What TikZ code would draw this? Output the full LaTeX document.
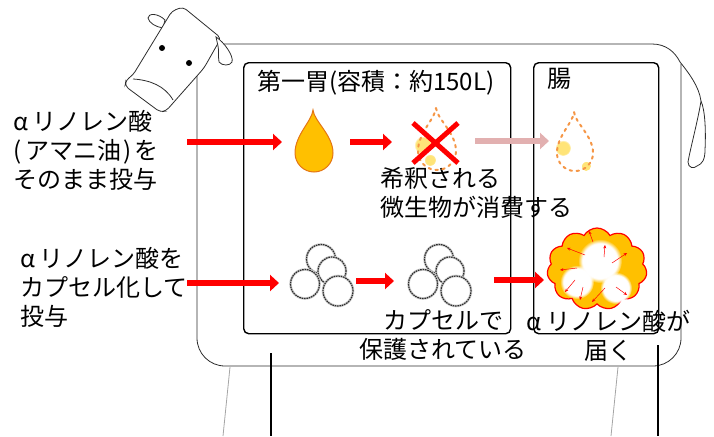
\documentclass[tikz,border=0pt]{standalone}
\usepackage{fontspec}
\newfontfamily\jp{Noto Sans CJK JP}
\usetikzlibrary{arrows.meta,shapes.symbols,fadings}
\definecolor{dropfill}{RGB}{255,192,0}
\definecolor{dropline}{RGB}{228,118,20}
\definecolor{dotline}{RGB}{245,150,70}
\definecolor{pinkarrow}{RGB}{226,176,176}
\definecolor{bodyline}{RGB}{45,45,45}
\definecolor{legline}{RGB}{165,165,165}
\definecolor{glow}{RGB}{255,210,30}
\newcommand\agap{\hspace{5pt}}

\begin{document}
\begin{tikzpicture}[x=1pt,y=-1pt,
  txt/.style={font=\jp\fontsize{24}{29}\selectfont, inner sep=0pt, outer sep=0pt},
  flow/.style={draw=red, line width=6pt, -{Triangle[length=9pt,width=16pt]}},
  fadedflow/.style={flow, draw=pinkarrow},
  panel/.style={draw=black, line width=1.4pt, rounded corners=5pt, anchor=north west, inner sep=0pt},
  outline/.style={draw=bodyline, line width=0.8pt},
  leg/.style={draw=legline, line width=0.8pt},
  innerleg/.style={draw=black, line width=1.1pt},
  spark/.style={draw=red, line width=0.5pt, -{Stealth[length=3.5pt,width=3pt]}},
  cross/.style={draw=red, line width=5pt},
  dropdash/.style={draw=dotline, line width=2pt, dash pattern=on 2.5pt off 4.5pt, line cap=round},
  droplet/.pic={\path[pic actions] (-1,-43) .. controls (0,-32) and (19,-18) .. (19,0)
      .. controls (19,10.5) and (10.5,19) .. (0,19)
      .. controls (-10.5,19) and (-19,10.5) .. (-19,0)
      .. controls (-19,-18) and (-2,-32) .. (-1,-43) -- cycle;},
  capsules/.pic={
    \foreach \cx/\cy/\rr in {0/-13/14.5, 11/-1/14, -16/12/14.5, 17/19/15}{
      \fill[white] (\cx,\cy) circle[radius=\rr pt];
      \draw[gray!35, line width=2.6pt] (\cx,\cy) circle[radius=\rr pt];
      \draw[gray!35!black, line width=1.2pt, dash pattern=on 1.6pt off 0.8pt] (\cx,\cy) circle[radius=\rr pt];
    }},
  glowspot/.style={fill=glow, fill opacity=0.6, path fading=circle with fuzzy edge 20 percent},
  whiteblob/.style={fill=white, path fading=circle with fuzzy edge 20 percent}
]
\useasboundingbox (0,0) rectangle (714,436);

% ---- cow body, tail and legs ----
\draw[outline, rounded corners=28pt] (197,74) -- (197,366) -- (681,366) -- (681,64);
\draw[outline] (224,44) -- (652,44) .. controls (666,44) and (675,52) .. (680,62)
  .. controls (688,72) and (699,86) .. (701,101)
  .. controls (698,120) and (690,150) .. (688,162)
  .. controls (688,168) and (694,169) .. (697,166)
  .. controls (702,164) and (705,160) .. (705,150)
  .. controls (706,130) and (705,110) .. (701,101);
\draw[leg] (230,367) -- (223,436);
\draw[innerleg] (271,353) -- (271,436);
\draw[leg] (618,367) -- (611,436);
\draw[innerleg] (658,345) -- (658,436);

% ---- head, ears, eyes ----
\draw[outline, fill=white] (165,20) .. controls (158,13) and (148,13) .. (148,18)
  .. controls (149,23) and (156,27) .. (163,28) -- cycle;
\draw[outline, fill=white, rounded corners=4pt] (183,7) -- (221,38) -- (204,68) -- (166,111)
  -- (160,112) -- (125,86) -- (126,80) -- (133,75) -- (172,11) -- cycle;
\draw[outline] (133,79) .. controls (150,80) and (165,86) .. (173,100);
\draw[outline, fill=white] (216,37) .. controls (224,42) and (234,56) .. (232,62)
  .. controls (230,66) and (222,66) .. (219,62) .. controls (218,56) and (219,50) .. (218,46) -- cycle;
\fill[black] (162,48) circle[radius=3pt];
\fill[black] (189,63) circle[radius=3pt];

% ---- compartments ----
\node[panel, minimum width=267pt, minimum height=271pt] (rumen) at (243,62) {};
\node[panel, minimum width=125pt, minimum height=271pt] (gut) at (533,62) {};

% ---- labels ----
\node[txt, anchor=north west] (rumenTitle) at (257,70) {第一胃(容積：約150L)};
\node[txt, anchor=north west] (gutTitle) at (547,68) {腸};
\node[txt, anchor=north west, align=left] (oilTxt) at (13,110) {α\agap リノレン酸\\(\hspace{4pt}アマニ油\hspace{2pt})\hspace{3pt}を\\そのまま投与};
\node[txt, anchor=north west, align=left] (capTxt) at (20,247) {α\agap リノレン酸を\\カプセル化して\\投与};
\node[txt, anchor=north west, align=left] (dilTxt) at (380,167) {希釈される\\微生物が消費する};
\node[txt, anchor=north, align=center] (protTxt) at (443,310) {カプセルで\\保護されている};
\node[txt, anchor=north, align=center] (arrTxt) at (608,310) {α\agap リノレン酸が\\届く};

% ---- upper row: free oil ----
\pic[fill=dropfill, draw=dropline, line width=1pt] (oilDrop) at (314,153) {droplet};
\fill[glowspot] (423,145) circle[radius=9pt];
\fill[glowspot] (430,160) circle[radius=6pt];
\pic[dropdash] (lostDrop) at (437,151) {droplet};
\fill[glowspot] (563,148) circle[radius=8pt];
\fill[glowspot] (586,166) circle[radius=5pt];
\pic[dropdash, scale=0.95] (faintDrop) at (575,153) {droplet};
\coordinate (xa) at (413,123); \coordinate (xb) at (458,163);
\coordinate (xc) at (458,123); \coordinate (xd) at (413,163);
\draw[cross] (xa) -- (xb);
\draw[cross] (xc) -- (xd);

\coordinate (a1s) at (187,142); \coordinate (a1e) at (282,142);
\coordinate (a2s) at (350,142); \coordinate (a2e) at (392,142);
\coordinate (a3s) at (475,141); \coordinate (a3e) at (549,141);
\draw[flow] (a1s) -- (a1e);
\draw[flow] (a2s) -- (a2e);
\draw[fadedflow] (a3s) -- (a3e);

% ---- lower row: encapsulated oil ----
\pic (capA) at (321,272) {capsules};
\pic (capB) at (439,272) {capsules};
\coordinate (b1s) at (187,283); \coordinate (b1e) at (279,283);
\coordinate (b2s) at (356,281); \coordinate (b2e) at (394,281);
\coordinate (b3s) at (494,280); \coordinate (b3e) at (544,280);
\draw[flow] (b1s) -- (b1e);
\draw[flow] (b2s) -- (b2e);
\draw[flow] (b3s) -- (b3e);

% ---- release in the intestine ----
\node[cloud, cloud puffs=11, cloud puff arc=120, aspect=1.2, fill=dropfill, draw=red,
      line width=1.2pt, minimum width=100pt, minimum height=82pt, inner sep=0pt] (burst) at (597,269) {};
\fill[whiteblob] (600,261) circle[radius=22pt];
\fill[whiteblob] (577,282) circle[radius=17pt];
\fill[whiteblob] (616,288) circle[radius=16pt];
\foreach \sx/\sy/\ex/\ey in {585/255/567/248, 593/242/589/231, 604/257/605/245,
    612/263/627/253, 577/268/560/270, 575/280/565/292, 583/287/580/300,
    605/288/592/302, 616/287/627/295}{
  \draw[spark] (\sx,\sy) -- (\ex,\ey);
}
\end{tikzpicture}
\end{document}
